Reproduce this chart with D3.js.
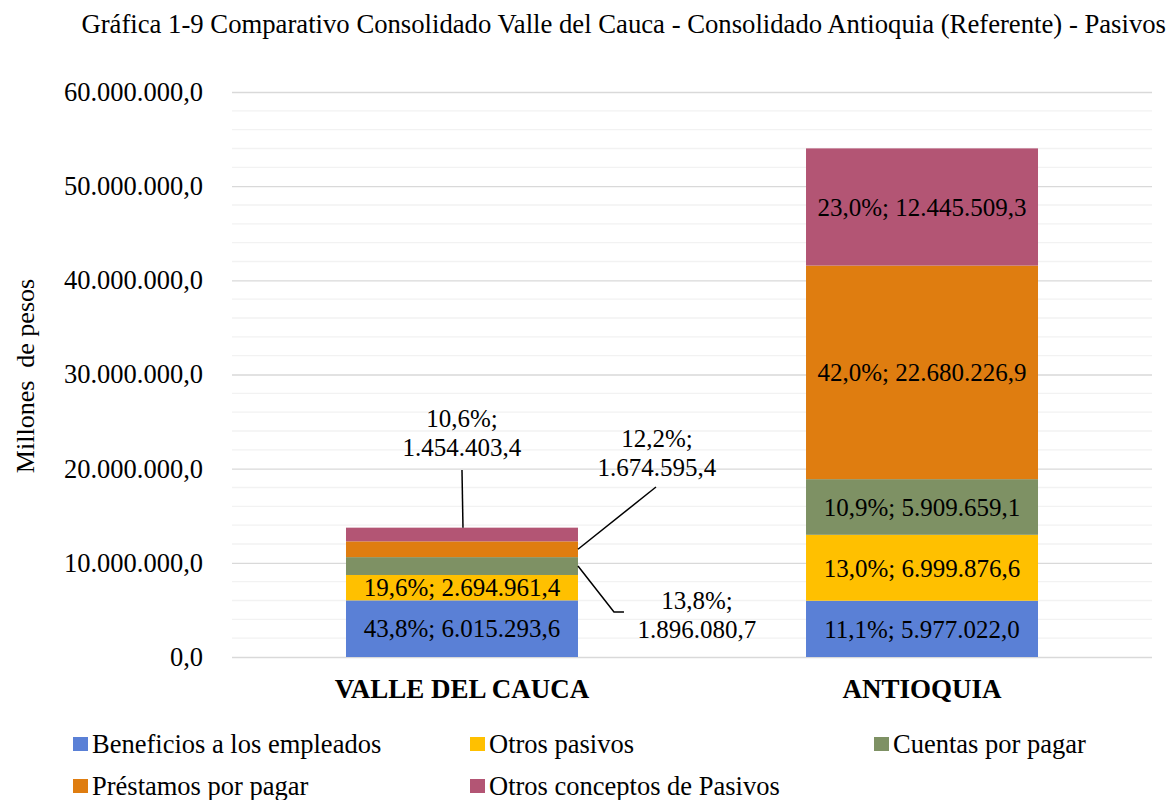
<!DOCTYPE html>
<html>
<head>
<meta charset="utf-8">
<script src="https://cdn.jsdelivr.net/npm/d3@7"></script>
<style>
  body { margin: 0; background: #fff; }
  svg text { font-family: "Liberation Serif", "Times New Roman", serif; fill: #000; }
</style>
</head>
<body>
<div id="chart"></div>
<script>
// Data (millones de pesos)
const categories = ["VALLE DEL CAUCA", "ANTIOQUIA"];
const seriesNames = ["Beneficios a los empleados", "Otros pasivos", "Cuentas por pagar", "Préstamos por pagar", "Otros conceptos de Pasivos"];
const seriesColors = ["#5a80d6", "#ffc000", "#7e9164", "#df7d10", "#b35574"];
const valleValues = [6015293.6, 2694961.4, 1896080.7, 1674595.4, 1454403.4];
const antioquiaValues = [5977022.0, 6999876.6, 5909659.1, 22680226.9, 12445509.3];
const yTicks = [0, 10000000, 20000000, 30000000, 40000000, 50000000, 60000000];

const width = 1170, height = 800;
const margin = { top: 92, right: 18, bottom: 143, left: 232 };

const locale = d3.formatLocale({ decimal: ",", thousands: ".", grouping: [3], currency: ["$", ""] });
const fmtNum = locale.format(",.1f");
const fmtPct = locale.format(".1%");

const svg = d3.select("#chart").append("svg")
  .attr("width", width)
  .attr("height", height);

const y = d3.scaleLinear()
  .domain([0, 60000000])
  .range([height - margin.bottom, margin.top]);

const x = d3.scaleBand()
  .domain(categories)
  .range([margin.left, width - margin.right])
  .paddingInner(0.4957)
  .paddingOuter(0.2478);

// minor gridlines
svg.append("g")
  .selectAll("line")
  .data(d3.range(2000000, 60000000, 2000000).filter(v => v % 10000000 !== 0))
  .enter().append("line")
  .attr("x1", margin.left).attr("x2", width - margin.right)
  .attr("y1", d => y(d)).attr("y2", d => y(d))
  .attr("stroke", "#f2f2f2").attr("stroke-width", 1.3);

// y axis with major gridlines
const yAxis = d3.axisLeft(y)
  .tickValues(yTicks)
  .tickSize(-(width - margin.left - margin.right))
  .tickPadding(29)
  .tickFormat(fmtNum);

const yg = svg.append("g")
  .attr("transform", `translate(${margin.left},0)`)
  .call(yAxis);
yg.select(".domain").remove();
yg.selectAll(".tick line").attr("stroke", "#d9d9d9").attr("stroke-width", 1.3);
yg.selectAll(".tick text")
  .attr("font-size", 26.5)
  .style("font-family", "'Liberation Serif', serif")
  .attr("fill", "#000");

// Stack data
const rows = categories.map((c, i) => {
  const vals = i === 0 ? valleValues : antioquiaValues;
  const row = { category: c, total: d3.sum(vals) };
  seriesNames.forEach((s, j) => row[s] = vals[j]);
  return row;
});
const stacked = d3.stack().keys(seriesNames)(rows);

const layers = svg.append("g")
  .selectAll("g")
  .data(stacked)
  .enter().append("g")
  .attr("fill", (d, i) => seriesColors[i]);

layers.selectAll("rect")
  .data(d => d.map(p => Object.assign(p, { key: d.key })))
  .enter().append("rect")
  .attr("x", d => x(d.data.category))
  .attr("y", d => y(d[1]))
  .attr("width", x.bandwidth())
  .attr("height", d => y(d[0]) - y(d[1]));

// In-bar labels
const labels = svg.append("g");
stacked.forEach((layer, i) => {
  layer.forEach(p => {
    const cat = p.data.category;
    const v = p[1] - p[0];
    const txt = fmtPct(v / p.data.total) + "; " + fmtNum(v);
    if (cat === "VALLE DEL CAUCA" && i >= 2) return; // outside callouts
    labels.append("text")
      .attr("x", x(cat) + x.bandwidth() / 2)
      .attr("y", y((p[0] + p[1]) / 2))
      .attr("dy", "0.35em")
      .attr("text-anchor", "middle")
      .attr("font-size", 25)
      .attr("fill", i === 0 ? "#fff" : "#000")
      .text(txt);
  });
});

// Callout labels for small Valle segments
const valleX = x("VALLE DEL CAUCA");
const bw = x.bandwidth();
const callouts = [
  { layer: 2, tx: valleX + bw + 119, ty: 609, pts: p => [[valleX + bw, y((p[0] + p[1]) / 2)], [valleX + bw + 36, 612], [valleX + bw + 46, 612]] },
  { layer: 3, tx: valleX + bw + 79, ty: 447, pts: p => [[valleX + bw, y((p[0] + p[1]) / 2)], [valleX + bw + 78, 487]] },
  { layer: 4, tx: valleX + bw / 2, ty: 427, pts: p => [[valleX + bw / 2 + 1, y(p[1])], [valleX + bw / 2, 470]] }
];
callouts.forEach(c => {
  const p = stacked[c.layer][0];
  const v = p[1] - p[0];
  labels.append("path")
    .attr("d", d3.line()(c.pts(p)))
    .attr("fill", "none")
    .attr("stroke", "#000")
    .attr("stroke-width", 1.5);
  const t = labels.append("text")
    .attr("text-anchor", "middle")
    .attr("font-size", 25);
  t.append("tspan").attr("x", c.tx).attr("y", c.ty).text(fmtPct(v / p.data.total) + ";");
  t.append("tspan").attr("x", c.tx).attr("y", c.ty + 29).text(fmtNum(v));
});

// Category labels
svg.append("g")
  .selectAll("text")
  .data(categories)
  .enter().append("text")
  .attr("x", d => x(d) + bw / 2)
  .attr("y", 698)
  .attr("text-anchor", "middle")
  .attr("font-size", 27)
  .attr("font-weight", "bold")
  .text(d => d);

// Y axis title
svg.append("text")
  .attr("transform", "translate(34,376) rotate(-90)")
  .attr("text-anchor", "middle")
  .attr("font-size", 26)
  .style("white-space", "pre")
  .text("Millones  de pesos");

// Title
svg.append("text")
  .attr("x", 1166)
  .attr("y", 33)
  .attr("text-anchor", "end")
  .attr("font-size", 26.7)
  .text("Gráfica 1-9 Comparativo Consolidado Valle del Cauca - Consolidado Antioquia (Referente) - Pasivos");

// Legend
const legendPos = [[73, 744], [470, 744], [874, 744], [73, 786], [470, 786]];
const legend = svg.append("g")
  .selectAll("g")
  .data(seriesNames)
  .enter().append("g")
  .attr("transform", (d, i) => `translate(${legendPos[i][0]},${legendPos[i][1]})`);
legend.append("rect")
  .attr("x", 0).attr("y", -7)
  .attr("width", 15).attr("height", 14)
  .attr("fill", (d, i) => seriesColors[i]);
legend.append("text")
  .attr("x", 19)
  .attr("y", 8.5)
  .attr("font-size", 26.5)
  .text(d => d);
</script>
</body>
</html>
